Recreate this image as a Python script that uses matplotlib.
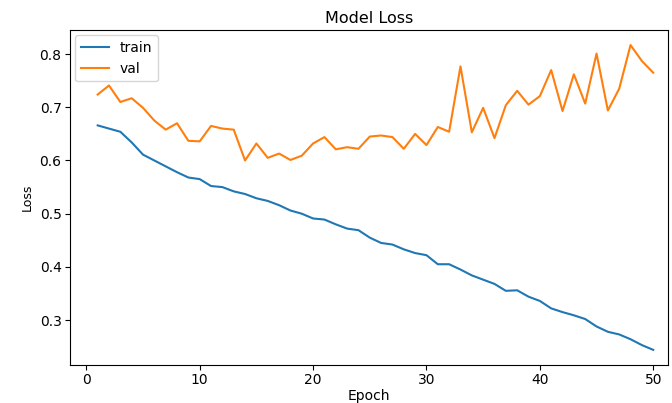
import matplotlib
matplotlib.use("Agg")
import matplotlib.pyplot as plt

epochs = list(range(1, 51))
train_loss = [0.666, 0.660, 0.654, 0.634, 0.611, 0.600, 0.589, 0.578, 0.568, 0.565,
              0.552, 0.550, 0.542, 0.537, 0.529, 0.524, 0.516, 0.506, 0.500, 0.491,
              0.489, 0.480, 0.472, 0.469, 0.455, 0.445, 0.442, 0.433, 0.426, 0.422,
              0.405, 0.405, 0.395, 0.384, 0.376, 0.368, 0.355, 0.356, 0.344, 0.336,
              0.322, 0.315, 0.309, 0.302, 0.288, 0.278, 0.273, 0.264, 0.253, 0.244]
val_loss = [0.724, 0.741, 0.710, 0.717, 0.699, 0.675, 0.658, 0.670, 0.637, 0.636,
            0.665, 0.660, 0.658, 0.600, 0.632, 0.605, 0.613, 0.601, 0.609, 0.632,
            0.644, 0.621, 0.625, 0.622, 0.645, 0.647, 0.644, 0.622, 0.650, 0.629,
            0.663, 0.654, 0.777, 0.653, 0.699, 0.642, 0.704, 0.731, 0.705, 0.721,
            0.770, 0.693, 0.762, 0.707, 0.801, 0.694, 0.735, 0.817, 0.787, 0.765]

fig = plt.figure(figsize=(6.72, 4.03), dpi=100)
ax = fig.add_axes([0.104, 0.094, 0.89, 0.832])
ax.plot(epochs, train_loss, color='#1f77b4', label='train')
ax.plot(epochs, val_loss, color='#ff7f0e', label='val')
ax.set_xlim(-1.45, 51.3)
ax.set_title('Model Loss', fontsize=11.5, pad=5)
ax.set_xlabel('Epoch', fontsize=10, labelpad=1)
ax.set_ylabel('Loss', fontsize=9, labelpad=4)
ax.tick_params(labelsize=10, pad=2.5)
ax.legend(loc='upper left', fontsize=10, borderaxespad=0.4)
fig.savefig('out.png', dpi=100)
